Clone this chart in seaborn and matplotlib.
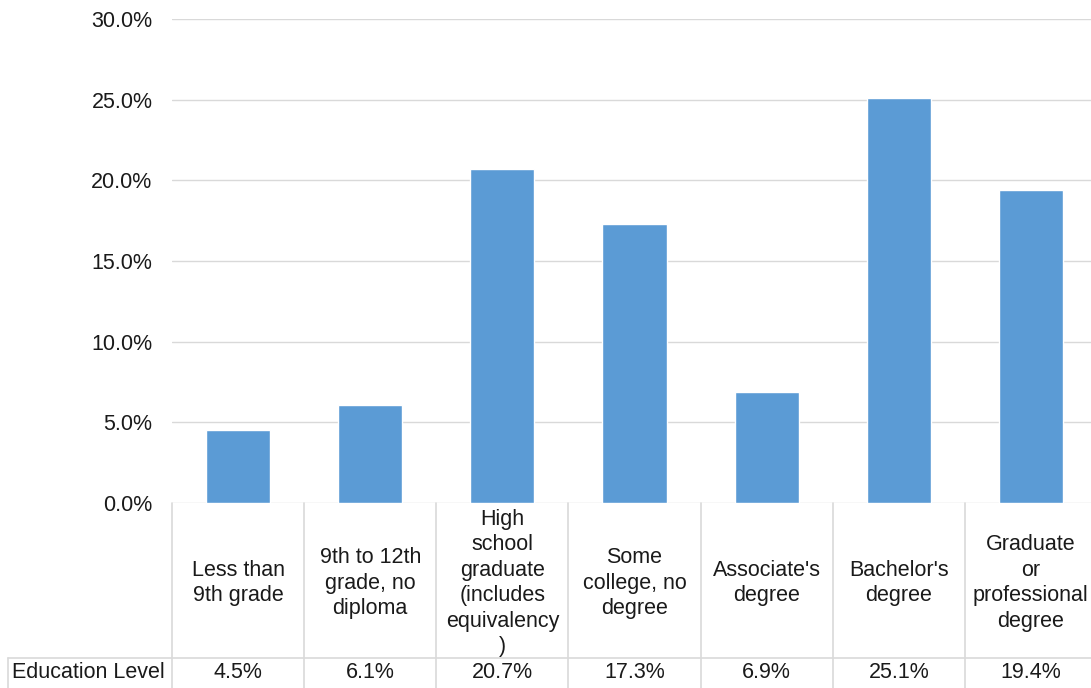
import matplotlib
matplotlib.use("Agg")
import matplotlib.pyplot as plt
import matplotlib.transforms as mtransforms
import seaborn as sns
import pandas as pd

# --- Dados ---
categorias = [
    "Less than\n9th grade",
    "9th to 12th\ngrade, no\ndiploma",
    "High\nschool\ngraduate\n(includes\nequivalency\n)",
    "Some\ncollege, no\ndegree",
    "Associate's\ndegree",
    "Bachelor's\ndegree",
    "Graduate\nor\nprofessional\ndegree",
]
valores = [4.5, 6.1, 20.7, 17.3, 6.9, 25.1, 19.4]
rotulo_linha = "Education Level"
yticks = [0, 5, 10, 15, 20, 25, 30]

cor_barra = "#5B9BD5"
cor_grade = "#d9d9d9"
cor_texto = "#1a1a1a"
tam = 15.5

sns.set_theme(style="white")
plt.rcParams["font.family"] = ["Liberation Sans", "DejaVu Sans"]

df = pd.DataFrame({"cat": categorias, "val": valores})

W, H = 1091, 688
fig = plt.figure(figsize=(W / 100, H / 100), dpi=100)
# area do grafico em pixels: x 172..1097, y 19..503
ax = fig.add_axes([172 / W, (H - 503) / H, 925 / W, 484 / H])

sns.barplot(data=df, x="cat", y="val", color=cor_barra, width=0.485,
            saturation=1, ax=ax)

ax.set_ylim(0, 30)
ax.set_xlim(-0.5, len(categorias) - 0.5)
ax.set_yticks(yticks)
ax.set_yticklabels([f"{t:.1f}%" for t in yticks], fontsize=tam, color=cor_texto)
ax.tick_params(axis="y", length=0, pad=14)
ax.set_xticks([])
ax.set_xlabel("")
ax.set_ylabel("")
ax.yaxis.grid(True, color=cor_grade, lw=1)
ax.set_axisbelow(True)
for s in ax.spines.values():
    s.set_visible(False)

# --- Tabela de dados ---
def py(pix):
    # pixel vertical da figura -> coordenada do eixo
    return -(pix - 503) / 484

trans = mtransforms.blended_transform_factory(ax.transData, ax.transAxes)
y_fundo = py(700)
y_sep = py(658)

for i in range(len(categorias) + 1):
    ax.plot([i - 0.5, i - 0.5], [0, y_fundo], transform=trans, color=cor_grade,
            lw=1.2, clip_on=False)

x_esq = (8 - 172) / 925
ax.plot([x_esq, 1], [y_sep, y_sep], transform=ax.transAxes, color=cor_grade,
        lw=1.2, clip_on=False)
ax.plot([x_esq, x_esq], [y_sep, y_fundo], transform=ax.transAxes,
        color=cor_grade, lw=1.2, clip_on=False)

for i, (c, v) in enumerate(zip(categorias, valores)):
    ax.text(i, py(583), c, transform=trans, ha="center", va="center",
            multialignment="center", linespacing=1.28, fontsize=tam,
            color=cor_texto)
    ax.text(i, py(673), f"{v:.1f}%", transform=trans, ha="center",
            va="center", fontsize=tam, color=cor_texto)

ax.text((12 - 172) / 925, py(673), rotulo_linha, transform=ax.transAxes,
        ha="left", va="center", fontsize=tam, color=cor_texto)

fig.savefig("out.png", dpi=100)
